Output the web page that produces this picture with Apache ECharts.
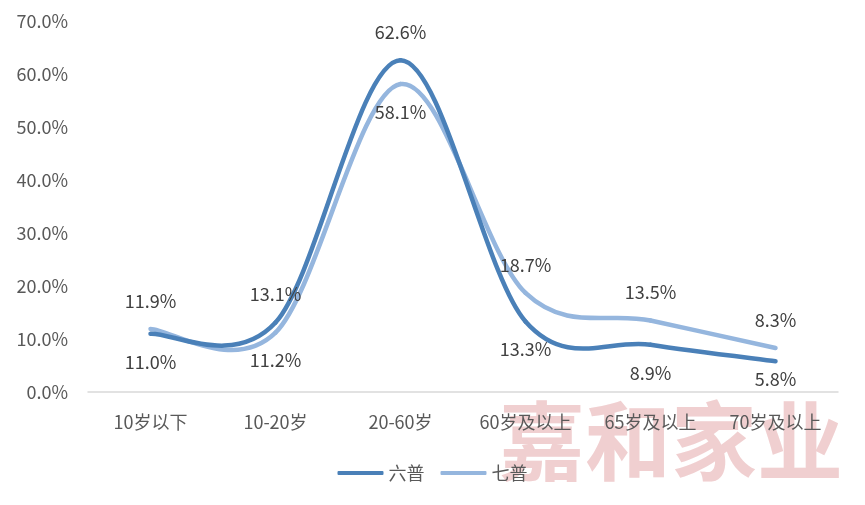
<!DOCTYPE html>
<html><head><meta charset="utf-8">
<script src="https://cdn.jsdelivr.net/npm/echarts@6/dist/echarts.min.js"></script>
<style>html,body{margin:0;padding:0;background:#fff}#c{width:865px;height:505px}</style>
</head><body><div id="c"></div>
<script>
const categories = ['10岁以下','10-20岁','20-60岁','60岁及以上','65岁及以上','70岁及以上'];
const census6 = [11.0, 13.1, 62.6, 13.3, 8.9, 5.8];
const census7 = [11.9, 11.2, 58.1, 18.7, 13.5, 8.3];
const label6Pos = ['bottom','top','top','bottom','bottom','bottom'];
const label7Pos = ['top','bottom','bottom','top','top','top'];

const font = '"Noto Sans CJK SC", "Noto Sans", sans-serif';
const C6 = '#4a80b8', C7 = '#95b6de';
const chart = echarts.init(document.getElementById('c'));

function mk(vals, pos){
  return vals.map((v,i)=>{
    const lab = {position:pos[i]};
    if (pos[i]==='bottom' && v < 7) lab.distance = 8; // squeezed near the axis
    return {value:v, label:lab};
  });
}

// Excel-like smoothed curve: cubic Bezier segments, control points at p ± (next-prev)/6
function curveSeries(name, vals, color, z){
  const n = vals.length;
  return {
    name, type:'custom', z, silent:true,
    itemStyle:{color},
    data: vals.map((v,i)=>[i,v]),
    encode:{x:0, y:1},
    renderItem(params, api){
      const i = params.dataIndex;
      if (i >= n-1) return null;
      const P = k => { const j = Math.max(0,Math.min(n-1,k)); return api.coord([j, vals[j]]); };
      const p0 = P(i-1), p1 = P(i), p2 = P(i+1), p3 = P(i+2);
      const cp1 = [p1[0] + (p2[0]-p0[0])/6, p1[1] + (p2[1]-p0[1])/6];
      const cp2 = [p2[0] - (p3[0]-p1[0])/6, p2[1] - (p3[1]-p1[1])/6];
      return {
        type:'bezierCurve',
        shape:{x1:p1[0], y1:p1[1], x2:p2[0], y2:p2[1], cpx1:cp1[0], cpy1:cp1[1], cpx2:cp2[0], cpy2:cp2[1]},
        style:{stroke:color, lineWidth:4.5, fill:'none', lineCap:'round'}
      };
    }
  };
}
const lbl = {show:true, distance:18, fontSize:18, color:'#404040', fontFamily:font, formatter:p=>p.value.toFixed(1)+'%'};
function labelSeries(name, vals, pos){
  return {name, type:'line', data:mk(vals,pos), symbol:'circle', symbolSize:2, showSymbol:true, silent:true,
    itemStyle:{color:'rgba(255,255,255,0)'}, lineStyle:{color:'rgba(255,255,255,0)', width:0}, label:lbl, z:5};
}

chart.setOption({
  animation:false,
  textStyle:{fontFamily:font},
  grid:{left:88, right:27, top:21, bottom:113, containLabel:false},
  graphic:[{type:'text', left:499, top:398, z:-10, silent:true,
    style:{text:'嘉和家业', fontSize:86, fontWeight:'bold', fill:'#f0cfd0', fontFamily:font}}],
  xAxis:{type:'category', data:categories, boundaryGap:true,
    axisLine:{lineStyle:{color:'#d9d9d9', width:1.5}}, axisTick:{show:false},
    axisLabel:{color:'#595959', fontSize:18, margin:21, interval:0}},
  yAxis:{type:'value', min:0, max:70, interval:10,
    axisLine:{show:false}, axisTick:{show:false}, splitLine:{show:false},
    axisLabel:{color:'#595959', fontSize:18, margin:20, formatter:v=>v.toFixed(1)+'%'}},
  legend:{bottom:18, left:'center', itemWidth:46, itemHeight:4, itemGap:16,
    icon:'roundRect', textStyle:{color:'#595959', fontSize:18},
    data:[{name:'六普', itemStyle:{color:C6}}, {name:'七普', itemStyle:{color:C7}}]},
  series:[
    curveSeries('七普', census7, C7, 2),
    curveSeries('六普', census6, C6, 3),
    labelSeries('l6', census6, label6Pos),
    labelSeries('l7', census7, label7Pos)
  ]
});
</script></body></html>
